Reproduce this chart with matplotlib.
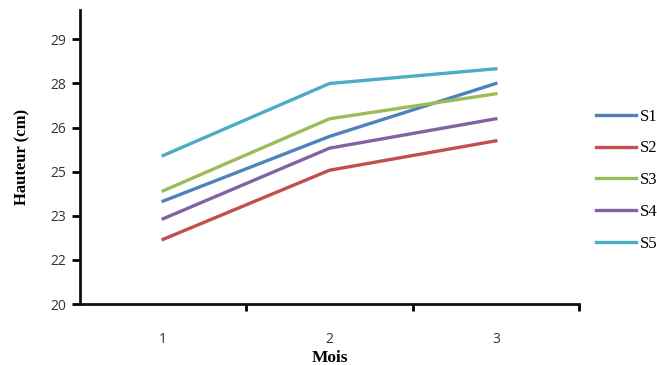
import matplotlib.pyplot as plt
import numpy as np

mois = [1, 2, 3]
s1 = [23.5, 25.7, 27.5]
s2 = [22.2, 24.55, 25.55]
s3 = [23.85, 26.3, 27.15]
s4 = [22.9, 25.3, 26.3]
s5 = [25.05, 27.5, 28.0]
series = ['S1', 'S2', 'S3', 'S4', 'S5']
colors = ['#4F81BD', '#C0504D', '#9BBB59', '#8064A2', '#4BACC6']

yticks = np.arange(20, 30, 1.5)
ylabels = ['20', '22', '23', '25', '26', '28', '29']

fig = plt.figure(figsize=(6.57, 3.65), dpi=100)
ax = fig.add_axes([80/657, 1-304/365, 499/657, 294/365])

handles = []
for name, vals, c in zip(series, [s1, s2, s3, s4, s5], colors):
    h, = ax.plot(mois, vals, color=c, lw=2.4, label=name)
    handles.append(h)

ax.set_xlim(0.5, 3.5)
ax.set_ylim(20, 30)
ax.set_yticks(yticks)
ax.set_yticklabels(ylabels, fontsize=10, color='#333333', family='Open Sans')
ax.set_xticks([1.5, 2.5, 3.5])
ax.set_xticklabels([])
ax.set_xticks(mois, minor=True)
ax.set_xticklabels([str(m) for m in mois], minor=True, fontsize=10,
                   color='#333333', family='Open Sans')
ax.tick_params(axis='x', which='minor', length=0, pad=20)
ax.tick_params(axis='x', which='major', length=5, width=2, direction='out')
ax.tick_params(axis='y', length=6, width=2, direction='out', pad=4)

for s in ['top', 'right']:
    ax.spines[s].set_visible(False)
for s in ['left', 'bottom']:
    ax.spines[s].set_linewidth(2)
    ax.spines[s].set_color('#111111')

ax.set_xlabel('Mois', family='Liberation Serif', fontweight='bold', fontsize=12.5, labelpad=2)
ax.set_ylabel('Hauteur (cm)', family='Liberation Serif', fontweight='bold', fontsize=12, labelpad=14)

fig.legend(handles=handles, loc='upper left', bbox_to_anchor=(589/657, 1-102/365),
           frameon=False, prop={'family': 'Liberation Serif', 'size': 12},
           handlelength=2.4, handletextpad=0.25, labelspacing=0.95,
           borderaxespad=0, borderpad=0.4)

fig.savefig('out.png', dpi=100)
